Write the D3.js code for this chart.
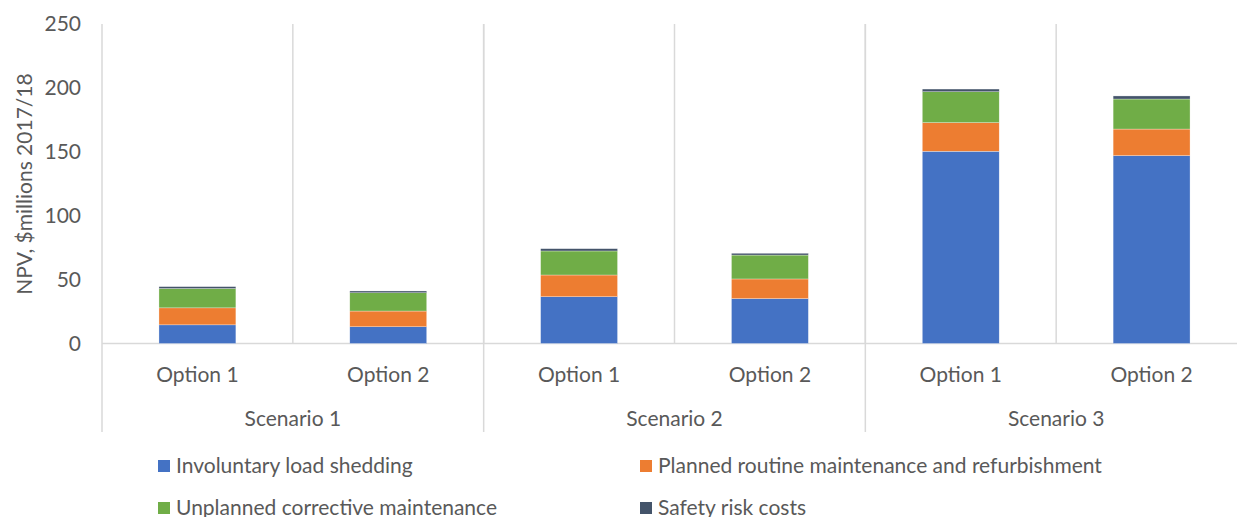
<!DOCTYPE html>
<html>
<head>
<meta charset="utf-8">
<script src="https://cdn.jsdelivr.net/npm/d3@7"></script>
<style>
  body { margin: 0; background: #fff; }
  text { font-family: Lato, "Open Sans", sans-serif; fill: #595959; }
</style>
</head>
<body>
<div id="chart"></div>
<script>
// chart data
var scenarios = ["Scenario 1", "Scenario 2", "Scenario 3"];
var options = ["Option 1", "Option 2"];
var seriesNames = ["Involuntary load shedding", "Planned routine maintenance and refurbishment",
    "Unplanned corrective maintenance", "Safety risk costs"];
var seriesColors = ["#4472C4", "#ED7D31", "#70AD47", "#44546A"];
var loadShedding = [14.6, 13.1, 36.6, 35.1, 150.4, 147.0];
var plannedMaint = [13.3, 12.3, 17.0, 15.4, 22.4, 20.8];
var unplannedMaint = [15.1, 14.3, 18.8, 18.7, 24.2, 23.5];
var safetyRisk = [1.5, 1.4, 1.8, 1.4, 2.1, 2.4];
var yTicks = [0, 50, 100, 150, 200, 250];

var width = 1237, height = 517;
// plot box (right edge runs past the window, as in the original)
var plotLeft = 102, plotRight = 1247, plotTop = 24, plotBottom = 343.5;
var fontSize = "21px";

var svg = d3.select("#chart").append("svg")
    .attr("width", width)
    .attr("height", height);

// one row per scenario/option pair
var rows = [];
scenarios.forEach(function(s, i) {
    options.forEach(function(o, j) {
        var k = i * options.length + j;
        rows.push({
            key: s + "|" + o, scenario: s, option: o,
            s0: loadShedding[k], s1: plannedMaint[k], s2: unplannedMaint[k], s3: safetyRisk[k]
        });
    });
});

var stack = d3.stack().keys(["s0", "s1", "s2", "s3"]);
var stacked = stack(rows);

var x = d3.scaleBand()
    .domain(rows.map(function(d) { return d.key; }))
    .range([plotLeft, plotRight])
    .paddingInner(0.597)
    .paddingOuter(0.597 / 2);

var xScen = d3.scaleBand()
    .domain(scenarios)
    .range([plotLeft, plotRight]);

var y = d3.scaleLinear()
    .domain([0, 250])
    .range([plotBottom, plotTop]);

var step = x.step();
var grid = "#D9D9D9";

// vertical separators between options (plot area only)
svg.append("g").selectAll("line")
    .data(rows.slice(0, rows.length - 1))
    .enter().append("line")
    .attr("x1", function(d) { return x(d.key) - x.paddingOuter() * step + step; })
    .attr("x2", function(d) { return x(d.key) - x.paddingOuter() * step + step; })
    .attr("y1", plotTop)
    .attr("y2", plotBottom)
    .style("stroke", grid)
    .style("stroke-width", 1.5);

// scenario separators run down through the labels
svg.append("g").selectAll("line")
    .data(scenarios)
    .enter().append("line")
    .attr("x1", function(d) { return xScen(d); })
    .attr("x2", function(d) { return xScen(d); })
    .attr("y1", plotTop)
    .attr("y2", 432)
    .style("stroke", grid)
    .style("stroke-width", 1.5);

// baseline
svg.append("line")
    .attr("x1", plotLeft).attr("x2", plotRight)
    .attr("y1", y(0)).attr("y2", y(0))
    .style("stroke", grid)
    .style("stroke-width", 1.5);

// bars
svg.append("g").selectAll("g")
    .data(stacked)
    .enter().append("g")
    .attr("fill", function(d, i) { return seriesColors[i]; })
    .selectAll("rect")
    .data(function(d) { return d; })
    .enter().append("rect")
    .attr("x", function(d) { return x(d.data.key); })
    .attr("width", x.bandwidth())
    .attr("y", function(d) { return y(d[1]); })
    .attr("height", function(d) { return y(d[0]) - y(d[1]); })
    .style("stroke", "#fff")
    .style("stroke-width", 0.5)
    .style("stroke-opacity", 0.6);

// y axis labels
svg.append("g").selectAll("text")
    .data(yTicks)
    .enter().append("text")
    .attr("x", 81)
    .attr("y", function(d) { return y(d); })
    .attr("dy", "0.35em")
    .attr("text-anchor", "end")
    .style("font-size", fontSize)
    .text(function(d) { return d; });

svg.append("text")
    .attr("transform", "translate(25," + 184 + ") rotate(-90)")
    .attr("text-anchor", "middle")
    .attr("dy", "0.35em")
    .style("font-size", fontSize)
    .text("NPV, $millions 2017/18");

// option labels
svg.append("g").selectAll("text")
    .data(rows)
    .enter().append("text")
    .attr("x", function(d) { return x(d.key) + x.bandwidth() / 2; })
    .attr("y", 375)
    .attr("dy", "0.35em")
    .attr("text-anchor", "middle")
    .style("font-size", fontSize)
    .text(function(d) { return d.option; });

// scenario labels
svg.append("g").selectAll("text")
    .data(scenarios)
    .enter().append("text")
    .attr("x", function(d) { return xScen(d) + xScen.bandwidth() / 2; })
    .attr("y", 419)
    .attr("dy", "0.35em")
    .attr("text-anchor", "middle")
    .style("font-size", fontSize)
    .text(function(d) { return d; });

// legend, two columns
var legend = svg.append("g").selectAll("g")
    .data(seriesNames)
    .enter().append("g")
    .attr("transform", function(d, i) {
        var lx = (i % 2 == 0) ? 158 : 640;
        var ly = (i < 2) ? 466 : 508;
        return "translate(" + lx + "," + ly + ")";
    });

legend.append("rect")
    .attr("x", 0)
    .attr("y", -6)
    .attr("width", 12)
    .attr("height", 12)
    .attr("fill", function(d, i) { return seriesColors[i]; });

legend.append("text")
    .attr("x", 18)
    .attr("y", 0)
    .attr("dy", "0.35em")
    .style("font-size", fontSize)
    .text(function(d) { return d; });
</script>
</body>
</html>
